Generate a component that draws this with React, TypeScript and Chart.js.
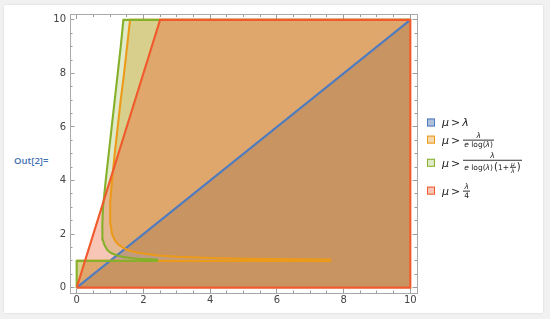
import React, { useEffect, useRef } from 'react';
import { Chart, registerables } from 'chart.js';

Chart.register(...registerables);

// ---- axes ----
const axisMin = -0.2;
const axisMax = 10.2;
const majorTicks = [0, 2, 4, 6, 8, 10];
const minorTicks = [0, 0.5, 1, 1.5, 2, 2.5, 3, 3.5, 4, 4.5, 5, 5.5, 6, 6.5, 7, 7.5, 8, 8.5, 9, 9.5, 10];

// ---- region boundaries: μ (horizontal) against λ (vertical) ----
const muMax = 10;
const lambdaMax = 10;
const stripLambda = 1; // below λ = 1 the orange and green regions cover every μ

// μ > λ
const blueMu = [0, 10];
const blueLambda = [0, 10];

// μ > λ / (e log λ)
const orangeStripEndMu = 7.6;
const orangeLambda = [1.052, 1.06, 1.08, 1.1, 1.15, 1.2, 1.3, 1.4, 1.6, 1.8, 2.0, 2.4, 2.72, 3.2, 4, 5, 6, 7, 8, 9, 10];
const orangeMu = [7.6, 6.69, 5.16, 4.25, 3.03, 2.42, 1.82, 1.53, 1.25, 1.13, 1.06, 1.01, 1.0, 1.01, 1.06, 1.14, 1.23, 1.32, 1.42, 1.51, 1.6];

// μ > λ / (e log λ (1 + μ/λ))
const greenStripEndMu = 2.41;
const greenLambda = [1.05, 1.06, 1.08, 1.1, 1.15, 1.2, 1.3, 1.4, 1.6, 1.8, 2.0, 2.4, 3, 4, 5, 6, 7, 8, 9, 10];
const greenMu = [2.41, 2.19, 1.88, 1.68, 1.38, 1.21, 1.02, 0.92, 0.83, 0.78, 0.77, 0.77, 0.79, 0.87, 0.96, 1.05, 1.14, 1.23, 1.32, 1.4];

// μ > λ / 4
const redMu = [0, 2.5];
const redLambda = [0, 10];

// ---- colours ----
const BLUE = '#4F7CC0';
const ORANGE = '#EC9A1A';
const GREEN = '#86B02A';
const RED = '#F05A2C';
const BLUE_FILL = 'rgba(94,129,181,0.5)';
const ORANGE_FILL = 'rgba(225,156,36,0.38)';
const GREEN_FILL = 'rgba(143,176,50,0.27)';
const RED_FILL = 'rgba(235,98,53,0.36)';

const pts = (mu: number[], lambda: number[]) => mu.map((m, i) => ({ x: m, y: lambda[i] }));

const blueRegion = pts(blueMu, blueLambda);
const orangeRegion = [{ x: 0, y: 0 }, { x: 0, y: stripLambda }, { x: orangeStripEndMu, y: stripLambda }, ...pts(orangeMu, orangeLambda)];
const greenRegion = [{ x: 0, y: 0 }, { x: 0, y: stripLambda }, { x: greenStripEndMu, y: stripLambda }, ...pts(greenMu, greenLambda)];
const redRegion = pts(redMu, redLambda);

const blueOutline = blueRegion;
const orangeOutline = [...orangeRegion.slice(1), { x: muMax, y: lambdaMax }];
const greenOutline = [...greenRegion, { x: muMax, y: lambdaMax }];
const redOutline = [...redRegion, { x: muMax, y: lambdaMax }, { x: muMax, y: 0 }, { x: 0, y: 0 }];

const fillSet = (data: any[], color: string, order: number) => ({
  data,
  fill: { value: muMax },
  backgroundColor: color,
  borderColor: 'rgba(0,0,0,0)',
  borderWidth: 0,
  pointRadius: 0,
  tension: 0,
  order,
});
const lineSet = (data: any[], color: string, order: number) => ({
  data,
  fill: false,
  borderColor: color,
  borderWidth: 2.1,
  pointRadius: 0,
  tension: 0,
  order,
});

const FONT = "'DejaVu Sans', sans-serif";

function makeAxis(axis: 'x' | 'y', position: string, major: boolean, labels: boolean, size: number) {
  return {
    type: 'linear',
    axis,
    position,
    min: axisMin,
    max: axisMax,
    weight: major ? 1 : 0,
    afterBuildTicks: (s: any) => {
      s.ticks = (major ? majorTicks : minorTicks).map((v) => ({ value: v }));
    },
    afterFit: (s: any) => {
      if (axis === 'x') s.height = size;
      else s.width = size;
    },
    grid: {
      display: true,
      drawOnChartArea: false,
      drawTicks: true,
      tickLength: major ? -4.5 : -2.5,
      color: '#9c9c9c',
      tickColor: '#9c9c9c',
      lineWidth: 1,
    },
    border: { display: major, color: '#a9a9a9', width: 1 },
    ticks: {
      display: labels,
      autoSkip: false,
      maxRotation: 0,
      color: '#444',
      font: { family: FONT, size: 10 },
      padding: axis === 'x' ? 6 : 8.5,
      callback: (v: any) => String(v),
    },
  };
}

const Frac = ({ num, den, size }: { num: any; den: any; size: number }) => (
  <span
    style={{
      display: 'inline-flex',
      flexDirection: 'column',
      alignItems: 'center',
      fontSize: size,
      lineHeight: 1.05,
      margin: '0 1px',
    }}
  >
    <span style={{ padding: '0 1px', fontStyle: 'italic' }}>{num}</span>
    <span style={{ borderTop: '0.8px solid #333', padding: '0 1px', alignSelf: 'stretch', textAlign: 'center', display: 'flex', alignItems: 'center', justifyContent: 'center' }}>{den}</span>
  </span>
);

const I = ({ children }: { children: any }) => <span style={{ fontStyle: 'italic' }}>{children}</span>;

const legendItems = [
  { fill: BLUE_FILL, stroke: BLUE, y: 122, body: <I>λ</I> },
  {
    fill: ORANGE_FILL,
    stroke: ORANGE,
    y: 140,
    body: <Frac size={7.5} num="λ" den={<span><I>e</I> log(<I>λ</I>)</span>} />,
  },
  {
    fill: GREEN_FILL,
    stroke: GREEN,
    y: 163,
    body: (
      <Frac
        size={7.5}
        num="λ"
        den={
          <span style={{ display: 'inline-flex', alignItems: 'center' }}>
            <I>e</I>&nbsp;log(<I>λ</I>)
            <span style={{ fontSize: 10, marginLeft: 1 }}>(</span>1+<Frac size={6} num="μ" den={<I>λ</I>} />
            <span style={{ fontSize: 10 }}>)</span>
          </span>
        }
      />
    ),
  },
  { fill: RED_FILL, stroke: RED, y: 191, body: <Frac size={7.5} num="λ" den="4" /> },
];

export default function App() {
  const ref = useRef<HTMLCanvasElement | null>(null);

  useEffect(() => {
    if (!ref.current) return;
    const chart = new Chart(ref.current, {
      type: 'line',
      data: {
        datasets: [
          fillSet(blueRegion, BLUE_FILL, 3),
          fillSet(orangeRegion, ORANGE_FILL, 2),
          fillSet(greenRegion, GREEN_FILL, 1),
          fillSet(redRegion, RED_FILL, 0),
          lineSet(blueOutline, BLUE, 3),
          lineSet(orangeOutline, ORANGE, 2),
          lineSet(greenOutline, GREEN, 1),
          lineSet(redOutline, RED, 0),
        ] as any,
      },
      options: {
        indexAxis: 'y',
        animation: false,
        responsive: false,
        maintainAspectRatio: false,
        devicePixelRatio: 1,
        events: [],
        layout: { padding: { left: 0, top: 14, right: 133, bottom: 0 } },
        plugins: {
          legend: { display: false },
          tooltip: { enabled: false },
          filler: { propagate: false, drawTime: 'beforeDatasetsDraw' },
        },
        scales: {
          x: makeAxis('x', 'bottom', true, true, 26),
          xMinor: makeAxis('x', 'bottom', false, false, 0),
          xTop: makeAxis('x', 'top', true, false, 0),
          xTopMinor: makeAxis('x', 'top', false, false, 0),
          y: makeAxis('y', 'left', true, true, 70),
          yMinor: makeAxis('y', 'left', false, false, 0),
          yRight: makeAxis('y', 'right', true, false, 0),
          yRightMinor: makeAxis('y', 'right', false, false, 0),
        } as any,
      } as any,
    });
    return () => chart.destroy();
  }, []);

  return (
    <div style={{ position: 'fixed', left: 0, top: 0, width: 550, height: 319, background: '#f1f1f1', overflow: 'hidden' }}>
      <div
        style={{
          position: 'absolute',
          left: 4,
          top: 5,
          width: 539,
          height: 308,
          background: '#fff',
          boxShadow: '0 0 2px rgba(0,0,0,0.12)',
        }}
      />
      <div
        style={{
          position: 'absolute',
          left: 14,
          top: 160.5,
          transform: 'translateY(-50%)',
          color: '#3f70b0',
          fontFamily: "'Open Sans', sans-serif",
          fontWeight: 600,
          fontSize: 9.5,
          lineHeight: 1,
        }}
      >
        Out[2]=
      </div>
      <canvas ref={ref} width={550} height={319} style={{ position: 'absolute', left: 0, top: 0, width: 550, height: 319 }} />
      {legendItems.map((it, i) => (
        <div
          key={i}
          style={{
            position: 'absolute',
            left: 427,
            top: it.y,
            transform: 'translateY(-50%)',
            display: 'flex',
            alignItems: 'center',
            fontFamily: FONT,
            fontSize: 11,
            color: '#222',
            whiteSpace: 'nowrap',
          }}
        >
          <span
            style={{
              display: 'inline-block',
              width: 6,
              height: 6,
              background: it.fill,
              border: `1px solid ${it.stroke}`,
              marginRight: 7,
            }}
          />
          <I>μ</I>
          <span style={{ margin: '0 2px' }}>&gt;</span>
          {it.body}
        </div>
      ))}
    </div>
  );
}
